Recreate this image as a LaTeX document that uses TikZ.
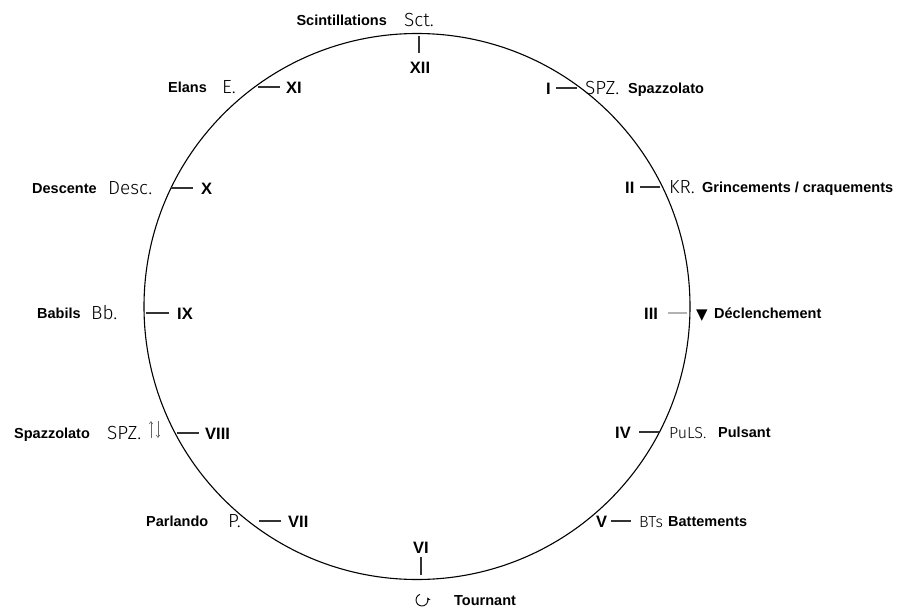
\documentclass[tikz,border=0pt]{standalone}
\usepackage{fontspec}
\setmainfont{Liberation Sans}
\newfontfamily\lightf{Fira Sans Light}
\newfontfamily\symf{DejaVu Sans}
\usetikzlibrary{arrows.meta}
\begin{document}
\begin{tikzpicture}[x=1pt,y=-1pt,
  lab/.style={font=\fontsize{14.5}{16}\selectfont\bfseries, inner sep=0pt, anchor=base west},
  num/.style={font=\fontsize{16.5}{18}\selectfont\bfseries, inner sep=0pt, anchor=base west},
  abbr/.style={font=\lightf\fontsize{19}{21}\selectfont, inner sep=0pt, anchor=base west},
  smallabbr/.style={font=\lightf\fontsize{16}{18}\selectfont, inner sep=0pt, anchor=base west},
  tickline/.style={line width=1.8pt, draw=black!80},
  faintick/.style={line width=1.5pt, draw=black!30},
  thinarrow/.style={line width=0.6pt, draw=black!60, -{Straight Barb[length=2.5pt,width=3.5pt]}},
]
\useasboundingbox (0,0) rectangle (900,608);
\node[draw, circle, minimum size=546pt, line width=1.1pt, inner sep=0pt] (dial) at (417,306.5) {};

% XII
\node[lab, anchor=base east] (scint) at (387,25) {Scintillations};
\node[abbr] (sct) at (404,26) {Sct.};
\coordinate (t12a) at (419,36); \coordinate (t12b) at (419,53);
\draw[tickline] (t12a) -- (t12b);
\node[num, anchor=base] (n12) at (420,73) {XII};

% XI
\node[lab] (elans) at (168,92) {Elans};
\node[abbr] (e) at (222,93) {E.};
\coordinate (t11a) at (258,87); \coordinate (t11b) at (280,87);
\draw[tickline] (t11a) -- (t11b);
\node[num] (n11) at (286,93) {XI};

% I
\node[num] (n1) at (546,94) {I};
\coordinate (t1a) at (556,88); \coordinate (t1b) at (577,88);
\draw[tickline] (t1a) -- (t1b);
\node[abbr] (spz1) at (585,94) {SPZ.};
\node[lab] (spazr) at (628,93) {Spazzolato};

% X
\node[lab] (desc) at (32,193) {Descente};
\node[abbr] (descab) at (108,194) {Desc.};
\coordinate (t10a) at (171,188); \coordinate (t10b) at (193,188);
\draw[tickline] (t10a) -- (t10b);
\node[num] (n10) at (201,194) {X};

% II
\node[num] (n2) at (625,193) {II};
\coordinate (t2a) at (640,187); \coordinate (t2b) at (660,187);
\draw[tickline] (t2a) -- (t2b);
\node[abbr] (kr) at (669,193) {KR.};
\node[lab] (grinc) at (702,192) {Grincements / craquements};

% IX
\node[lab] (babils) at (37,318) {Babils};
\node[abbr] (bb) at (91,319) {Bb.};
\coordinate (t9a) at (146,313); \coordinate (t9b) at (169,313);
\draw[tickline] (t9a) -- (t9b);
\node[num] (n9) at (177,319) {IX};

% III
\node[num] (n3) at (644,319) {III};
\coordinate (t3a) at (668,313); \coordinate (t3b) at (687,313);
\draw[faintick] (t3a) -- (t3b);
\node[inner sep=0pt, anchor=base west, font=\symf\fontsize{15}{17}\selectfont] (tri) at (696,319) {▼};
\node[lab] (decl) at (714,318) {Déclenchement};

% VIII
\node[lab] (spazl) at (14,438) {Spazzolato};
\node[abbr] (spz8) at (107,439) {SPZ.};
\coordinate (upa) at (151,438); \coordinate (upb) at (151,421);
\coordinate (dna) at (158,421); \coordinate (dnb) at (158,438);
\draw[thinarrow] (upa) -- (upb);
\draw[thinarrow] (dna) -- (dnb);
\coordinate (t8a) at (177,433); \coordinate (t8b) at (199,433);
\draw[tickline] (t8a) -- (t8b);
\node[num] (n8) at (205,439) {VIII};

% IV
\node[num] (n4) at (615,438) {IV};
\coordinate (t4a) at (639,432); \coordinate (t4b) at (659,432);
\draw[tickline] (t4a) -- (t4b);
\node[smallabbr] (puls) at (669,438) {PuLS.};
\node[lab] (pulsant) at (718,437) {Pulsant};

% VII
\node[lab] (parl) at (146,526) {Parlando};
\node[abbr] (p) at (228,527) {P.};
\coordinate (t7a) at (259,521); \coordinate (t7b) at (281,521);
\draw[tickline] (t7a) -- (t7b);
\node[num] (n7) at (288,527) {VII};

% V
\node[num] (n5) at (596,527) {V};
\coordinate (t5a) at (611,521); \coordinate (t5b) at (631,521);
\draw[tickline] (t5a) -- (t5b);
\node[smallabbr] (bts) at (639,527) {BTs};
\node[lab] (batt) at (668,526) {Battements};

% VI
\node[num, anchor=base] (n6) at (421,553) {VI};
\coordinate (t6a) at (421,557); \coordinate (t6b) at (421,575);
\draw[tickline] (t6a) -- (t6b);
\coordinate (rot) at (422,600);
\draw[line width=0.9pt, -{Stealth[length=3.5pt,width=3.5pt]}] ([shift={(250:6)}]rot) arc[start angle=250, end angle=-25, radius=6];
\node[lab] (tourn) at (454,605) {Tournant};
\end{tikzpicture}
\end{document}
